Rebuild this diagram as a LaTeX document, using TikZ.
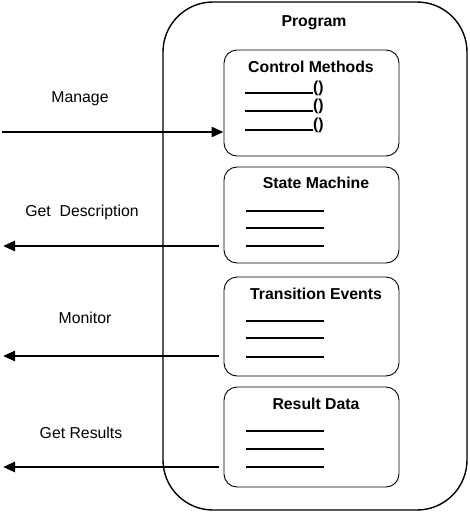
\documentclass[tikz,border=0pt]{standalone}
\usepackage{fontspec}
\setmainfont{Liberation Sans}
\usetikzlibrary{arrows.meta}
\begin{document}
\begin{tikzpicture}[x=1pt,y=-1pt,
  outerbox/.style={draw,line width=1.4pt,rounded corners=50pt,minimum width=304pt,minimum height=508pt,inner sep=0pt},
  partbox/.style={draw,line width=0.9pt,rounded corners=13pt,minimum width=175pt,inner sep=0pt},
  ttl/.style={font=\fontsize{15.8}{18}\selectfont\bfseries,inner sep=0pt,anchor=base},
  lbl/.style={font=\fontsize{15.8}{18}\selectfont,inner sep=0pt,anchor=base},
  blank/.style={line width=1.8pt},
  flow/.style={line width=2.6pt,-{Triangle[length=12pt,width=10pt]}}]
\useasboundingbox (0,0) rectangle (470,512);
\node[outerbox] (prog) at (315,256) {};
\node[ttl] (progt) at (314,26) {Program};
\node[partbox,minimum height=106pt] (cm) at (311.5,103) {};
\node[partbox,minimum height=96pt] (sm) at (311.5,215) {};
\node[partbox,minimum height=99pt] (te) at (311.5,326.5) {};
\node[partbox,minimum height=100pt] (rd) at (311.5,437) {};
\node[ttl] (cmt) at (311,72) {Control Methods};
\node[ttl] (smt) at (316,188) {State Machine};
\node[ttl] (tet) at (316,299) {Transition Events};
\node[ttl] (rdt) at (316,409) {Result Data};
% control method blanks
\foreach \y/\n in {93/a,111/b,130/c}{
  \draw[blank] (245,\y) -- (313,\y);
  \node[ttl,anchor=base west] (p\n) at (313,\y-0.5) {()};
}
\foreach \y in {211,228,246}{\draw[blank] (246,\y) -- (324,\y);}
\foreach \y in {321,338,357}{\draw[blank] (246,\y) -- (324,\y);}
\foreach \y in {431,449,467}{\draw[blank] (246,\y) -- (324,\y);}
% external arrows
\coordinate (mgin) at (2,132);
\coordinate (gdout) at (3,246);
\coordinate (moout) at (3,356);
\coordinate (grout) at (3,467);
\draw[flow] (mgin) -- (mgin -| cm.west);
\draw[flow] ([xshift=-5pt]cm.west |- gdout) -- (gdout);
\draw[flow] ([xshift=-5pt]te.west |- moout) -- (moout);
\draw[flow] ([xshift=-5pt]rd.west |- grout) -- (grout);
\node[lbl] (mgl) at (80,102) {Manage};
\node[lbl] (gdl) at (82,216) {Get~ Description};
\node[lbl] (mol) at (85,323) {Monitor};
\node[lbl] (grl) at (81,438) {Get Results};
\end{tikzpicture}
\end{document}
